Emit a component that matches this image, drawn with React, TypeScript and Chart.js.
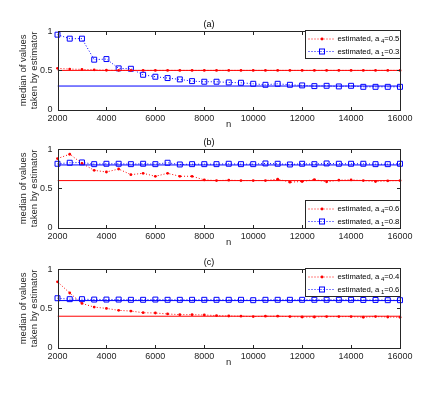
import { useEffect, useRef } from 'react';
import { Chart, registerables } from 'chart.js';

Chart.register(...registerables);

const N_VALUES = [2000, 2500, 3000, 3500, 4000, 4500, 5000, 5500, 6000, 6500, 7000, 7500, 8000, 8500, 9000, 9500, 10000, 10500, 11000, 11500, 12000, 12500, 13000, 13500, 14000, 14500, 15000, 15500, 16000];
const X_TICKS = [2000, 4000, 6000, 8000, 10000, 12000, 14000, 16000];
const Y_TICKS = [0, 0.5, 1];

// panel (a)
const A_EST_A4 = [0.526, 0.517, 0.513, 0.507, 0.502, 0.5, 0.5, 0.5, 0.5, 0.5, 0.5, 0.5, 0.5, 0.5, 0.5, 0.5, 0.5, 0.5, 0.5, 0.5, 0.5, 0.5, 0.5, 0.5, 0.5, 0.5, 0.5, 0.5, 0.5];
const A_EST_A1 = [0.957, 0.906, 0.906, 0.637, 0.645, 0.526, 0.521, 0.444, 0.419, 0.402, 0.385, 0.363, 0.355, 0.355, 0.346, 0.342, 0.329, 0.316, 0.329, 0.316, 0.308, 0.299, 0.303, 0.295, 0.303, 0.29, 0.29, 0.29, 0.29];
const A_TRUE = [0.5, 0.3];
const A_LABELS = ['0.5', '0.3'];

// panel (b)
const B_EST_A4 = [0.882, 0.937, 0.82, 0.731, 0.71, 0.748, 0.676, 0.693, 0.655, 0.693, 0.655, 0.655, 0.609, 0.6, 0.605, 0.6, 0.6, 0.6, 0.618, 0.58, 0.588, 0.613, 0.584, 0.605, 0.609, 0.6, 0.588, 0.597, 0.6];
const B_EST_A1 = [0.815, 0.828, 0.832, 0.81, 0.815, 0.815, 0.81, 0.815, 0.81, 0.828, 0.806, 0.81, 0.81, 0.81, 0.815, 0.81, 0.81, 0.819, 0.815, 0.806, 0.815, 0.81, 0.819, 0.815, 0.815, 0.815, 0.81, 0.81, 0.815];
const B_TRUE = [0.6, 0.8];
const B_LABELS = ['0.6', '0.8'];

// panel (c)
const C_EST_A4 = [0.84, 0.697, 0.563, 0.517, 0.5, 0.475, 0.466, 0.445, 0.441, 0.429, 0.42, 0.42, 0.416, 0.408, 0.403, 0.4, 0.395, 0.4, 0.4, 0.395, 0.39, 0.39, 0.395, 0.395, 0.395, 0.387, 0.395, 0.39, 0.387];
const C_EST_A1 = [0.63, 0.618, 0.618, 0.613, 0.613, 0.613, 0.61, 0.61, 0.613, 0.61, 0.61, 0.61, 0.61, 0.61, 0.61, 0.61, 0.605, 0.61, 0.61, 0.61, 0.61, 0.61, 0.61, 0.61, 0.61, 0.608, 0.608, 0.605, 0.605];
const C_TRUE = [0.4, 0.6];
const C_LABELS = ['0.4', '0.6'];

const FONT = '"Liberation Sans", Arial, Helvetica, sans-serif';
const AXIS_COLOR = '#262626';
const RED = '#ff0000';
const BLUE = '#0000ff';

type PanelProps = {
  top: number;
  title: string;
  est4: number[];
  est1: number[];
  truth: number[];
  labels: string[];
  legendPos: 'top' | 'bottom';
};

function drawRedDot(ctx: CanvasRenderingContext2D, x: number, y: number) {
  ctx.fillStyle = RED;
  ctx.beginPath();
  ctx.arc(x, y, 1.4, 0, Math.PI * 2);
  ctx.fill();
}

function drawBlueSquare(ctx: CanvasRenderingContext2D, x: number, y: number) {
  ctx.strokeStyle = BLUE;
  ctx.lineWidth = 1;
  ctx.strokeRect(x - 2.5, y - 2.5, 5, 5);
}

function Panel({ top, title, est4, est1, truth, labels, legendPos }: PanelProps) {
  const ref = useRef<HTMLCanvasElement | null>(null);

  useEffect(() => {
    if (!ref.current) return;

    const framePlugin = {
      id: 'frame',
      afterDraw(chart: any) {
        const ctx: CanvasRenderingContext2D = chart.ctx;
        const ca = chart.chartArea;
        const xs = chart.scales.x;
        const ys = chart.scales.y;
        ctx.save();
        ctx.strokeStyle = AXIS_COLOR;
        ctx.lineWidth = 1;
        const L = Math.round(ca.left) + 0.5;
        const R = Math.round(ca.right) + 0.5;
        const T = Math.round(ca.top) + 0.5;
        const B = Math.round(ca.bottom) + 0.5;
        ctx.strokeRect(L, T, R - L, B - T);
        const tl = 3.5;
        ctx.beginPath();
        X_TICKS.forEach((v) => {
          const px = Math.round(xs.getPixelForValue(v)) + 0.5;
          ctx.moveTo(px, B);
          ctx.lineTo(px, B - tl);
          ctx.moveTo(px, T);
          ctx.lineTo(px, T + tl);
        });
        Y_TICKS.forEach((v) => {
          const py = Math.round(ys.getPixelForValue(v)) + 0.5;
          ctx.moveTo(L, py);
          ctx.lineTo(L + tl, py);
          ctx.moveTo(R, py);
          ctx.lineTo(R - tl, py);
        });
        ctx.stroke();

        // legend
        const w = 95;
        const h = 28;
        const x0 = R - w;
        const y0 = legendPos === 'top' ? T - 1 : B - h;
        ctx.fillStyle = '#ffffff';
        ctx.fillRect(x0, y0, w, h);
        ctx.strokeStyle = AXIS_COLOR;
        ctx.strokeRect(x0, y0, w, h);
        const rows = [y0 + 8.5, y0 + 21];
        const subs = ['4', '1'];
        rows.forEach((ry, i) => {
          ctx.save();
          ctx.strokeStyle = i === 0 ? RED : BLUE;
          ctx.lineWidth = 1;
          ctx.setLineDash([1, 2]);
          ctx.beginPath();
          ctx.moveTo(x0 + 3, ry);
          ctx.lineTo(x0 + 30, ry);
          ctx.stroke();
          ctx.restore();
          if (i === 0) drawRedDot(ctx, x0 + 16.5, ry);
          else drawBlueSquare(ctx, x0 + 16.5, ry);
          ctx.fillStyle = '#000000';
          ctx.textBaseline = 'middle';
          ctx.textAlign = 'left';
          ctx.font = `7.7px ${FONT}`;
          let tx = x0 + 32;
          const t1 = 'estimated, a';
          ctx.fillText(t1, tx, ry);
          tx += ctx.measureText(t1).width + 1.5;
          ctx.font = `6px ${FONT}`;
          ctx.fillText(subs[i], tx, ry + 2.5);
          tx += ctx.measureText(subs[i]).width;
          ctx.font = `7.7px ${FONT}`;
          ctx.fillText('=' + labels[i], tx, ry);
        });
        ctx.restore();
      },
    };

    const pts = (arr: number[]) => N_VALUES.map((n, i) => ({ x: n, y: arr[i] }));
    const line = (v: number) => [
      { x: N_VALUES[0], y: v },
      { x: N_VALUES[N_VALUES.length - 1], y: v },
    ];

    const chart = new Chart(ref.current, {
      type: 'line',
      data: {
        datasets: [
          {
            data: line(truth[0]),
            borderColor: RED,
            borderWidth: 1,
            pointRadius: 0,
          },
          {
            data: line(truth[1]),
            borderColor: BLUE,
            borderWidth: 1,
            pointRadius: 0,
          },
          {
            data: pts(est4),
            borderColor: RED,
            borderWidth: 1,
            borderDash: [1, 2],
            pointRadius: 1.4,
            pointBackgroundColor: RED,
            pointBorderColor: RED,
            pointBorderWidth: 0,
            clip: false,
          },
          {
            data: pts(est1),
            borderColor: BLUE,
            borderWidth: 1,
            borderDash: [1, 2],
            pointStyle: 'rect',
            pointRadius: 3.5,
            pointBackgroundColor: 'rgba(0,0,0,0)',
            pointBorderColor: BLUE,
            pointBorderWidth: 1,
            clip: false,
          },
        ] as any,
      },
      options: {
        responsive: false,
        animation: false,
        events: [],
        layout: { padding: { left: 18, right: 42, top: 19.5, bottom: 0 } },
        plugins: {
          legend: { display: false },
          tooltip: { enabled: false },
          title: {
            display: true,
            text: title,
            color: '#000000',
            font: { size: 9, family: FONT, weight: 'normal' },
            padding: { top: 0, bottom: 1 },
          },
        },
        scales: {
          x: {
            type: 'linear',
            min: 2000,
            max: 16000,
            afterBuildTicks: (scale: any) => {
              scale.ticks = X_TICKS.map((v) => ({ value: v }));
            },
            afterFit: (scale: any) => {
              scale.height = 20.5;
            },
            ticks: {
              autoSkip: false,
              maxRotation: 0,
              padding: 4,
              color: AXIS_COLOR,
              font: { size: 9, family: FONT },
              callback: (v: any) => String(v),
            },
            grid: { display: false, drawTicks: false },
            border: { display: false },
            title: {
              display: true,
              text: 'n',
              color: AXIS_COLOR,
              font: { size: 9.5, family: FONT },
              padding: { top: 0, bottom: 0 },
            },
          },
          y: {
            type: 'linear',
            min: 0,
            max: 1,
            afterBuildTicks: (scale: any) => {
              scale.ticks = Y_TICKS.map((v) => ({ value: v }));
            },
            afterFit: (scale: any) => {
              scale.width = 39.5;
            },
            ticks: {
              padding: 5,
              color: AXIS_COLOR,
              font: { size: 9, family: FONT },
              callback: (v: any) => String(v),
            },
            grid: { display: false, drawTicks: false },
            border: { display: false },
            title: {
              display: true,
              text: ['median of values', 'taken by estimator'],
              color: AXIS_COLOR,
              font: { size: 9.5, family: FONT, lineHeight: 1.15 },
              padding: { top: 0, bottom: 3 },
            },
          },
        },
      } as any,
      plugins: [framePlugin],
    });
    return () => chart.destroy();
  }, [top, title, est4, est1, truth, labels, legendPos]);

  return (
    <canvas
      ref={ref}
      width={442}
      height={130}
      style={{ position: 'absolute', left: 0, top, width: 442, height: 130 }}
    />
  );
}

export default function App() {
  return (
    <div style={{ position: 'absolute', left: 0, top: 0, width: 442, height: 398, background: '#ffffff' }}>
      <Panel top={0} title="(a)" est4={A_EST_A4} est1={A_EST_A1} truth={A_TRUE} labels={A_LABELS} legendPos="top" />
      <Panel top={118} title="(b)" est4={B_EST_A4} est1={B_EST_A1} truth={B_TRUE} labels={B_LABELS} legendPos="bottom" />
      <Panel top={238} title="(c)" est4={C_EST_A4} est1={C_EST_A1} truth={C_TRUE} labels={C_LABELS} legendPos="top" />
    </div>
  );
}
